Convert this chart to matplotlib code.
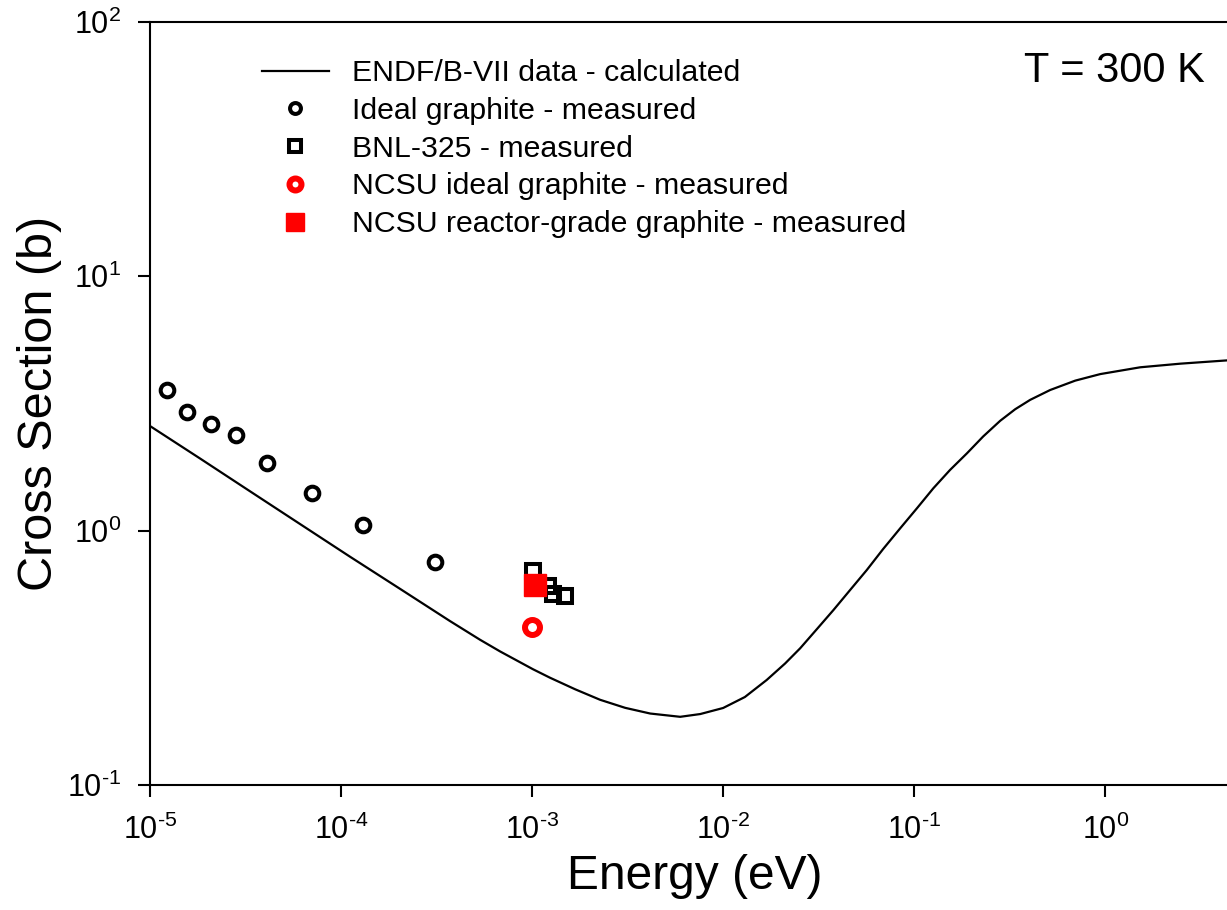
import matplotlib
matplotlib.use("Agg")
from matplotlib import pyplot as plt
from matplotlib.ticker import LogLocator, FuncFormatter, NullLocator
import numpy as np

plt.rcParams['font.family'] = ['Liberation Sans', 'DejaVu Sans']
plt.rcParams['mathtext.fontset'] = 'custom'
plt.rcParams['mathtext.rm'] = 'Liberation Sans'
plt.rcParams['mathtext.default'] = 'regular'
plt.rcParams['axes.unicode_minus'] = False

# ENDF/B-VII total cross section of graphite at 300 K
ENDF_E = [1.00e-5, 1.83e-5, 3.34e-5, 6.10e-5, 1.114e-4, 2.04e-4, 3.72e-4, 5.34e-4,
          6.80e-4, 1.01e-3, 1.24e-3, 1.68e-3, 2.27e-3, 3.07e-3, 4.15e-3, 5.96e-3,
          7.59e-3, 1.00e-2, 1.30e-2, 1.69e-2, 2.11e-2, 2.53e-2, 3.10e-2, 3.78e-2,
          4.62e-2, 5.65e-2, 6.88e-2, 8.45e-2, 0.1037, 0.126, 0.154, 0.189,
          0.2297, 0.282, 0.338, 0.405, 0.515, 0.697, 0.942, 1.525, 2.47, 4.34]
ENDF_XS = [2.579, 1.921, 1.428, 1.062, 0.790, 0.590, 0.441, 0.3725,
           0.3351, 0.2853, 0.2642, 0.2379, 0.2163, 0.2011, 0.1910, 0.1854,
           0.1901, 0.2008, 0.2218, 0.2587, 0.3004, 0.3447, 0.4106, 0.4875,
           0.5843, 0.7003, 0.847, 1.0216, 1.228, 1.468, 1.732, 2.015,
           2.346, 2.704, 3.003, 3.269, 3.573, 3.890, 4.127, 4.389, 4.535, 4.672]

IDEAL_E = [1.223e-5, 1.563e-5, 2.094e-5, 2.83e-5, 4.10e-5, 7.08e-5, 1.30e-4, 3.10e-4]
IDEAL_XS = [3.57, 2.94, 2.63, 2.38, 1.845, 1.406, 1.052, 0.755]

BNL_E = [1.016e-3, 1.216e-3, 1.288e-3, 1.483e-3]
BNL_XS = [0.696, 0.608, 0.564, 0.552]

NCSU_IDEAL_E = [1.0e-3]
NCSU_IDEAL_XS = [0.417]

NCSU_RG_E = [1.04e-3]
NCSU_RG_XS = [0.611]


def sci_label(v, pos):
    return r'10$^{\text{%d}}$' % int(round(np.log10(v)))


fig = plt.figure(figsize=(12.27, 9.10), dpi=100)
ax = fig.add_axes([150/1227, 1 - 785/910, 1 - 150/1227, (785 - 22)/910])

ax.plot(ENDF_E, ENDF_XS, color='black', lw=1.6, label='ENDF/B-VII data - calculated')
ax.plot(IDEAL_E, IDEAL_XS, ls='none', marker='o', ms=9.8, mew=2.9, mfc='none', mec='black',
        label='Ideal graphite - measured')
ax.plot(BNL_E, BNL_XS, ls='none', marker='s', ms=10.3, mew=2.9, mfc='none', mec='black',
        label='BNL-325 - measured')
ax.plot(NCSU_IDEAL_E, NCSU_IDEAL_XS, ls='none', marker='o', ms=10.8, mew=4.3, mfc='none', mec='red',
        label='NCSU ideal graphite - measured')
ax.plot(NCSU_RG_E, NCSU_RG_XS, ls='none', marker='s', ms=15.5, mew=1, mfc='red', mec='red',
        label='NCSU reactor-grade graphite - measured')

ax.set_xscale('log')
ax.set_yscale('log')
ax.set_xlim(1e-5, 4.34)
ax.set_ylim(0.1, 100)

for axis in (ax.xaxis, ax.yaxis):
    axis.set_major_locator(LogLocator(base=10, subs=(1.0,), numticks=20))
    axis.set_minor_locator(NullLocator())
    axis.set_major_formatter(FuncFormatter(sci_label))

ax.spines['right'].set_visible(False)
for s in ('left', 'bottom', 'top'):
    ax.spines[s].set_linewidth(1.5)
ax.tick_params(axis='both', which='major', direction='out', length=8.5, width=1.5,
               labelsize=22, top=False, right=False)
ax.tick_params(axis='x', pad=13)
ax.tick_params(axis='y', pad=12)

ax.set_xlabel('Energy (eV)', fontsize=34.5)
ax.xaxis.set_label_coords(0.506, -0.0904, transform=ax.transAxes)
ax.xaxis.label.set_va('top')
ax.set_ylabel('Cross Section (b)', fontsize=35, labelpad=4)

ax.text(0.9796, 0.9214, 'T = 300 K', transform=ax.transAxes, ha='right', va='baseline',
        fontsize=30)

ax.legend(loc='upper left', bbox_to_anchor=(0.104, 0.951), frameon=False, fontsize=21.8,
          handlelength=2.2, handletextpad=0.76, labelspacing=0.32, borderpad=0,
          borderaxespad=0, markerscale=0.8)

fig.savefig('out.png', dpi=100)
